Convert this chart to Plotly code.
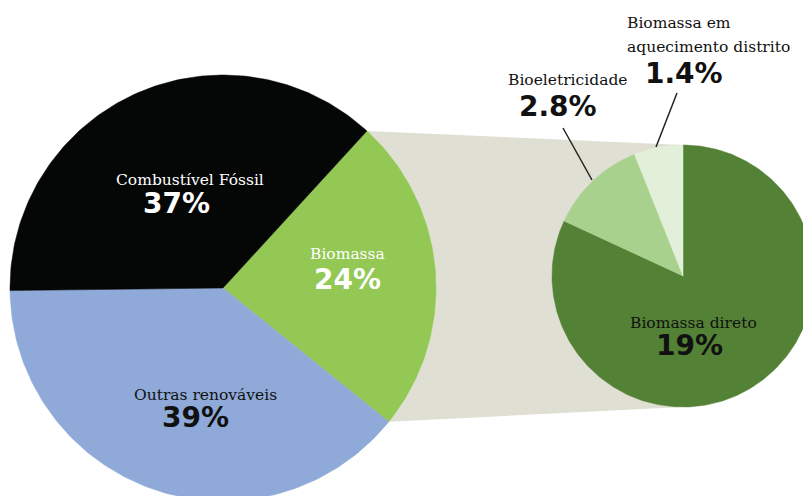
import numpy as np
import plotly.graph_objects as go

# ---- data ----
main_labels = ["Biomassa", "Outras renováveis", "Combustível Fóssil"]
main_values = [24, 39, 37]
main_colors = ["#92c853", "#8faad8", "#050606"]

sub_labels = ["Biomassa direto", "Bioeletricidade", "Biomassa em<br>aquecimento distrito"]
sub_values = [19, 2.8, 1.4]
sub_colors = ["#538135", "#a9d18e", "#e2efd9"]

# ---- geometry (pixel space) ----
W, H = 803, 496
C1, R1, START1 = (223, 288), 213, 42.5
C2, R2, START2 = (683, 276), 131, 0.0


def pt(c, r, deg):
    t = np.radians(deg)
    return c[0] + r * np.sin(t), c[1] - r * np.cos(t)


def wedge(c, r, a0, a1):
    ang = np.linspace(a0, a1, max(int(abs(a1 - a0)), 2) + 1)
    xs = [c[0]] + [pt(c, r, a)[0] for a in ang] + [c[0]]
    ys = [c[1]] + [pt(c, r, a)[1] for a in ang] + [c[1]]
    return xs, ys


def slices(values, start):
    tot = sum(values)
    out, a = [], start
    for v in values:
        span = 360.0 * v / tot
        out.append((a, a + span))
        a += span
    return out

fig = go.Figure()

main_ang = slices(main_values, START1)
sub_ang = slices(sub_values, START2)

# connector band behind the pies
b0, b1 = main_ang[0]
p0, p1 = pt(C1, R1, b0), pt(C1, R1, b1)
fig.add_trace(go.Scatter(
    x=[C1[0], p0[0], C2[0], C2[0], p1[0], C1[0]],
    y=[C1[1], p0[1], C2[1] - R2, C2[1] + R2, p1[1], C1[1]],
    fill="toself", fillcolor="#dfe0d3", line=dict(width=0),
    mode="lines", hoverinfo="skip", showlegend=False))

for (a0, a1), col in zip(main_ang, main_colors):
    xs, ys = wedge(C1, R1, a0, a1)
    fig.add_trace(go.Scatter(x=xs, y=ys, fill="toself", fillcolor=col,
                             line=dict(width=0.5, color=col), mode="lines",
                             hoverinfo="skip", showlegend=False))
for (a0, a1), col in zip(sub_ang, sub_colors):
    xs, ys = wedge(C2, R2, a0, a1)
    fig.add_trace(go.Scatter(x=xs, y=ys, fill="toself", fillcolor=col,
                             line=dict(width=0.5, color=col), mode="lines",
                             hoverinfo="skip", showlegend=False))

# leader lines for small slices
fig.add_trace(go.Scatter(x=[563, 592], y=[128, 180], mode="lines",
                         line=dict(color="#222222", width=1.5),
                         hoverinfo="skip", showlegend=False))
fig.add_trace(go.Scatter(x=[677, 656], y=[93, 147], mode="lines",
                         line=dict(color="#222222", width=1.5),
                         hoverinfo="skip", showlegend=False))

SERIF = "DejaVu Serif"
SANS = "DejaVu Sans"
SZ = 15.5


def label(x, y, text, color, size, family, bold=False, anchor="center"):
    fig.add_annotation(x=x, y=y, xref="x", yref="y", showarrow=False,
                       text=("<b>%s</b>" % text) if bold else text,
                       xanchor=anchor, yanchor="middle",
                       font=dict(family=family, size=size, color=color))

def pct(v):
    return ("%g%%" % v)

# main pie labels
label(190, 180, main_labels[2], "white", SZ, SERIF)
label(176, 203, pct(main_values[2]), "white", 28, SANS, True)
label(347, 254, main_labels[0], "white", SZ, SERIF)
label(347, 279, pct(main_values[0]), "white", 28, SANS, True)
label(205, 395, main_labels[1], "#111111", SZ, SERIF)
label(195, 417, pct(main_values[1]), "#111111", 28, SANS, True)

# sub pie labels
label(693, 323, sub_labels[0], "#111111", SZ, SERIF)
label(689, 345, pct(sub_values[0]), "#111111", 28, SANS, True)
label(567, 80, sub_labels[1], "#111111", SZ, SERIF)
label(558, 106, pct(sub_values[1]), "#111111", 28, SANS, True)
for i, line in enumerate(sub_labels[2].split("<br>")):
    label(625, 23 + 24 * i, line, "#111111", SZ, SERIF, anchor="left")
label(684, 73, pct(sub_values[2]), "#111111", 28, SANS, True)

fig.update_layout(
    width=W, height=H, margin=dict(l=0, r=0, t=0, b=0),
    paper_bgcolor="white", plot_bgcolor="white",
    xaxis=dict(range=[0, W], visible=False, fixedrange=True),
    yaxis=dict(range=[H, 0], visible=False, fixedrange=True),
    hovermode=False,
)

fig.write_html("out.html")
